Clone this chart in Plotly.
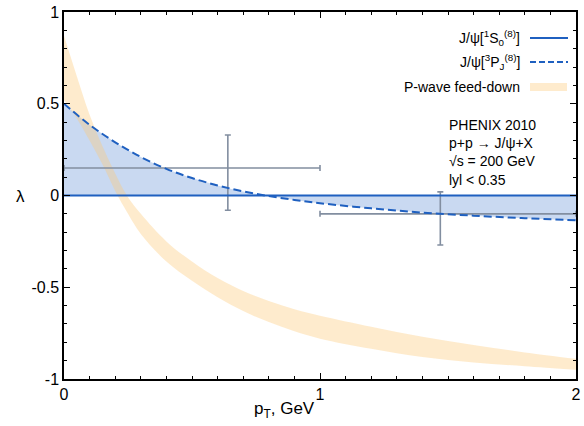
import plotly.graph_objects as go

# ---- data ----
pt = [0, 0.1, 0.2, 0.3, 0.4, 0.5, 0.6, 0.7, 0.8, 0.9, 1.0, 1.2, 1.4, 1.6, 1.8, 2.0]
lam_S = [0.0] * len(pt)
lam_P = [0.5, 0.385, 0.29, 0.21, 0.145, 0.095, 0.055, 0.022, -0.003, -0.024,
         -0.042, -0.07, -0.093, -0.11, -0.124, -0.135]

band_x = [0, 0.05, 0.1, 0.15, 0.2, 0.25, 0.3, 0.4, 0.5, 0.6, 0.7, 0.8, 0.9, 1.0,
          1.2, 1.4, 1.6, 1.8, 2.0]
band_hi = [0.87, 0.65, 0.44, 0.27, 0.12, -0.01, -0.10, -0.25, -0.36, -0.45, -0.52,
           -0.575, -0.62, -0.655, -0.715, -0.77, -0.815, -0.855, -0.89]
band_lo = [0.52, 0.42, 0.30, 0.17, 0.025, -0.10, -0.21, -0.36, -0.465, -0.555, -0.63,
           -0.69, -0.74, -0.78, -0.835, -0.88, -0.91, -0.93, -0.95]

data_x = [0.64, 1.47]
data_y = [0.15, -0.10]
data_x_minus = [0.64, 0.47]
data_x_plus = [0.36, 0.53]
data_y_plus = [0.18, 0.12]
data_y_minus = [0.23, 0.17]

BLUE = "rgb(31,96,192)"
FONT = "Liberation Sans, Arial, Helvetica, sans-serif"

# plot area in pixels
L, R, T, B = 64, 576, 12, 379


def px(x):
    return (x - L) / (R - L)


def py(y):
    return (B - y) / (B - T)


fig = go.Figure()

fig.add_trace(go.Scatter(x=pt, y=lam_P, mode="lines", line=dict(width=0, shape="spline"),
                         fill="tozeroy", fillcolor="rgba(40,105,200,0.25)",
                         hoverinfo="skip", showlegend=False))

fig.add_trace(go.Scatter(x=band_x, y=band_hi, mode="lines", line=dict(width=0, shape="spline"),
                         hoverinfo="skip", showlegend=False))
fig.add_trace(go.Scatter(x=band_x, y=band_lo, mode="lines", line=dict(width=0, shape="spline"),
                         fill="tonexty", fillcolor="rgba(253,200,120,0.37)",
                         hoverinfo="skip", showlegend=False))

fig.add_trace(go.Scatter(
    x=data_x, y=data_y, mode="markers",
    marker=dict(size=1, color="rgba(0,0,0,0)"),
    error_x=dict(type="data", symmetric=False, array=data_x_plus, arrayminus=data_x_minus,
                 color="rgb(130,142,160)", thickness=1.6, width=3),
    error_y=dict(type="data", symmetric=False, array=data_y_plus, arrayminus=data_y_minus,
                 color="rgb(130,142,160)", thickness=1.6, width=3),
    showlegend=False))

fig.add_trace(go.Scatter(x=pt, y=lam_S, mode="lines", line=dict(color=BLUE, width=2),
                         showlegend=False))
fig.add_trace(go.Scatter(x=pt, y=lam_P, mode="lines",
                         line=dict(color=BLUE, width=2, dash="8px,4px", shape="spline"),
                         showlegend=False))

axis_common = dict(showline=True, linecolor="black", linewidth=1.5, mirror="allticks",
                   ticks="inside", ticklen=6, tickwidth=1.2, tickcolor="black",
                   showgrid=False, zeroline=False,
                   tickfont=dict(family=FONT, size=16, color="black"))

fig.update_xaxes(range=[0, 2], tickvals=[0, 1, 2], ticktext=["0", "1", "2"],
                 minor=dict(dtick=0.1, ticks="inside", ticklen=3.5, tickcolor="black"),
                 **axis_common)
fig.update_yaxes(range=[-1, 1], tickvals=[-1, -0.5, 0, 0.5, 1],
                 ticktext=["-1", "-0.5", "0", "0.5", "1"],
                 minor=dict(dtick=0.1, ticks="inside", ticklen=3.5, tickcolor="black"),
                 **axis_common)

leg_items = [
    ("J/ψ[<sup>1</sup>S<sub>0</sub><sup>(8)</sup>]", 38, "solid"),
    ("J/ψ[<sup>3</sup>P<sub>J</sub><sup>(8)</sup>]", 62, "dash"),
    ("P-wave feed-down", 87, "band"),
]
annots = []
shapes = []
for text, ypix, kind in leg_items:
    annots.append(dict(text=text, x=px(522), y=py(ypix), xref="paper", yref="paper",
                       xanchor="right", yanchor="middle", showarrow=False,
                       font=dict(family=FONT, size=14, color="black")))
    if kind == "band":
        shapes.append(dict(type="rect", xref="paper", yref="paper",
                           x0=px(530), x1=px(567), y0=py(ypix + 4), y1=py(ypix - 4),
                           fillcolor="rgba(253,200,120,0.37)", line=dict(width=0)))
    else:
        shapes.append(dict(type="line", xref="paper", yref="paper",
                           x0=px(530), x1=px(568), y0=py(ypix), y1=py(ypix),
                           line=dict(color=BLUE, width=2,
                                     dash="solid" if kind == "solid" else "6px,3px")))

annots.append(dict(text="PHENIX 2010<br>p+p → J/ψ+X<br>√s = 200 GeV<br>lyl < 0.35",
                   x=px(447), y=py(115), xref="paper", yref="paper",
                   xanchor="left", yanchor="top", align="left", showarrow=False,
                   font=dict(family=FONT, size=14, color="black")))

annots.append(dict(text="λ", x=px(20), y=py(196), xref="paper", yref="paper",
                   xanchor="center", yanchor="middle", showarrow=False,
                   font=dict(family=FONT, size=17, color="black")))
annots.append(dict(text="p<sub>T</sub>, GeV", x=px(284), y=py(410), xref="paper", yref="paper",
                   xanchor="center", yanchor="middle", showarrow=False,
                   font=dict(family=FONT, size=17, color="black")))

fig.update_layout(
    width=584, height=426,
    margin=dict(l=L, r=584 - R, t=T, b=426 - B, autoexpand=False),
    paper_bgcolor="white", plot_bgcolor="white",
    annotations=annots, shapes=shapes, showlegend=False,
)

fig.write_html("out.html", config={"displayModeBar": False},
               post_script="document.body.style.margin='0';")
